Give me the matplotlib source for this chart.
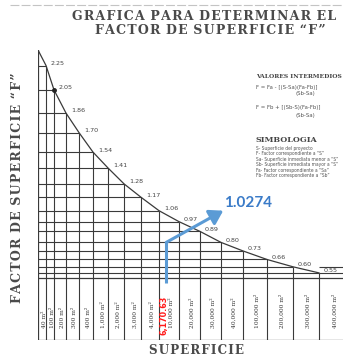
import matplotlib
matplotlib.use("Agg")
import matplotlib.pyplot as plt
from matplotlib.transforms import offset_copy
import numpy as np

# --- data -------------------------------------------------------------
superficies = [40, 100, 200, 300, 400, 1000, 2000, 3000, 4000, 10000,
               20000, 30000, 40000, 100000, 200000, 300000, 400000]
superficie_labels = ["40 m²", "100 m²", "200 m²", "300 m²", "400 m²",
                     "1,000 m²", "2,000 m²", "3,000 m²", "4,000 m²",
                     "10,000 m²", "20,000 m²", "30,000 m²", "40,000 m²",
                     "100,000 m²", "200,000 m²", "300,000 m²", "400,000 m²"]
factores = [2.25, 2.05, 1.86, 1.70, 1.54, 1.41, 1.28, 1.17, 1.06, 0.97,
            0.89, 0.80, 0.73, 0.66, 0.60, 0.55]
factor_labels = ["2.25", "2.05", "1.86", "1.70", "1.54", "1.41", "1.28",
                 "1.17", "1.06", "0.97", "0.89", "0.80", "0.73", "0.66",
                 "0.60", "0.55"]

superficie_proyecto = 6170.63

# --- layout -----------------------------------------------------------
W, H = 343, 357
col_widths = [8, 8, 12, 13, 14, 15, 16, 17, 18, 20, 21, 21, 22, 24, 26, 26, 28]
edges = np.concatenate([[0], np.cumsum(col_widths)])
table_top = 0.51          # upper border of the label strip (factor units)
label_base = 0.10         # baseline of the rotated surface labels
ink = "#3a3a3a"


def spaced(text):
    """Open up the letter spacing of a heading with hair spaces."""
    return "".join(c if c == " " else c + "\u200a" for c in text).rstrip("\u200a")


# linear interpolation between the neighbouring surfaces
i = np.searchsorted(superficies, superficie_proyecto) - 1
Sa, Sb = superficies[i], superficies[i + 1]
Fa, Fb = factores[i], factores[i + 1]
F = Fa - (superficie_proyecto - Sa) * (Fa - Fb) / (Sb - Sa)
x_proj = edges[i + 1] + (superficie_proyecto - Sa) / (Sb - Sa) * (edges[i + 2] - edges[i + 1])

fig = plt.figure(figsize=(W / 100, H / 100), dpi=100)
fig.patch.set_facecolor("white")
ax = fig.add_axes([38 / W, 17 / H, 305 / W, 290 / H])
ax.set_xlim(0, 305)
ax.set_ylim(0, 290 / 122)
ax.axis("off")
ytop = ax.get_ylim()[1]

n = len(factores)
xp = edges[1:n + 1]

# grid under the curve
ax.vlines(xp, 0, factores, color=ink, lw=0.8)
ax.hlines(factores, 0, xp, color=ink, lw=0.8)
ax.vlines(edges[n + 1], 0, table_top, color=ink, lw=0.8)
# axis and table borders
ax.plot([0, 0], [0, ytop], color=ink, lw=0.9)
ax.hlines([0, table_top], 0, 305, color=ink, lw=0.9)
ax.hlines([factores[-1], factores[-2]], xp[-1], 305, color=ink, lw=0.8)

# factor curve
ax.plot(np.concatenate([[0], xp]), np.concatenate([[ytop], factores]),
        color=ink, lw=0.9)
ax.plot(xp[1], factores[1], "o", color="#222", ms=2.5)
for x, f, t in zip(xp, factores, factor_labels):
    ax.annotate(t, (x, f), xytext=(3.5, 1.5), textcoords="offset points",
                fontsize=4.6, color="#444", va="center", ha="left")

# surface labels in the bottom strip
centers = (edges[:-1] + edges[1:]) / 2
shift = offset_copy(ax.transData, fig=fig, x=1.6, y=0, units="points")
for c, t in zip(centers, superficie_labels):
    ax.text(c, label_base, t, rotation=90, ha="center", va="bottom",
            fontsize=4.3, color="#333", family="DejaVu Serif", transform=shift)

# project surface and interpolated factor
blue = "#5b9bd5"
ax.plot([x_proj, x_proj], [0.47, 0.80], color=blue, lw=2.2, solid_capstyle="butt")
ax.annotate("", xy=(x_proj + 57, 1.06), xytext=(x_proj, 0.80),
            arrowprops=dict(arrowstyle="-|>,head_length=0.8,head_width=0.5",
                            color=blue, lw=2.2, shrinkA=0, shrinkB=0))
ax.text(x_proj + 58, 1.12, f"{F:.4f}", color="#3a7bc8", fontsize=11,
        fontweight="bold", family="Lato", ha="left", va="center")
back = offset_copy(ax.transData, fig=fig, x=-1.5, y=0, units="points")
ax.text(x_proj, 0.04, f"{superficie_proyecto:,.2f}", rotation=90, color="#ff1a1a",
        fontsize=5.8, fontweight="bold", ha="center", va="bottom", transform=back)

# titles
serif = dict(family="DejaVu Serif", fontweight="bold", color="#4a4a4a")
fig.text(72 / W, 1 - 16 / H, spaced("GRAFICA PARA DETERMINAR EL"), fontsize=9,
         ha="left", va="center", **serif)
fig.text(210 / W, 1 - 30 / H, spaced("FACTOR DE SUPERFICIE \u201cF\u201d"), fontsize=9,
         ha="center", va="center", **serif)
fig.text(18 / W, 1 - 188 / H, spaced("FACTOR DE SUPERFICIE \u201cF\u201d"), fontsize=9,
         rotation=90, ha="center", va="center", **serif)
fig.text(197 / W, 1 - 350 / H, spaced("SUPERFICIE"), fontsize=8.6,
         ha="center", va="center", **serif)
fig.lines.append(plt.Line2D([10 / W, 1], [1 - 5 / H, 1 - 5 / H], transform=fig.transFigure,
                            color="#c4c4c4", lw=0.8, ls=(0, (8, 2))))

# notes block
small = dict(fontsize=3.9, color="#555", ha="left", va="center")
notes_font = dict(fontsize=3.5, color="#555", ha="left", va="center",
                  family="DejaVu Sans", fontstretch="condensed")
fig.text(256 / W, 1 - 76 / H, "VALORES INTERMEDIOS", fontsize=4.3,
         family="DejaVu Serif", fontweight="bold", color="#444", ha="left", va="center")
fig.text(256 / W, 1 - 88 / H, "F = Fa - [(S-Sa)(Fa-Fb)]", **small)
fig.text(296 / W, 1 - 94 / H, "(Sb-Sa)", **small)
fig.text(256 / W, 1 - 108 / H, "F = Fb + [(Sb-S)(Fa-Fb)]", **small)
fig.text(296 / W, 1 - 116 / H, "(Sb-Sa)", **small)
fig.text(256 / W, 1 - 140 / H, "SIMBOLOGIA", fontsize=5.8,
         family="DejaVu Serif", fontweight="bold", color="#444", ha="left", va="center")
notes = ["S- Superficie del proyecto",
         "F- Factor correspondiente a \u201cS\u201d",
         "Sa- Superficie inmediata menor a \u201cS\u201d",
         "Sb- Superficie inmediata mayor a \u201cS\u201d",
         "Fa- Factor correspondiente a \u201cSa\u201d",
         "Fb- Factor correspondiente a \u201cSb\u201d"]
for k, t in enumerate(notes):
    fig.text(256 / W, 1 - (148 + 5.6 * k) / H, t, **notes_font)

fig.savefig("out.png", dpi=100, facecolor="white")
